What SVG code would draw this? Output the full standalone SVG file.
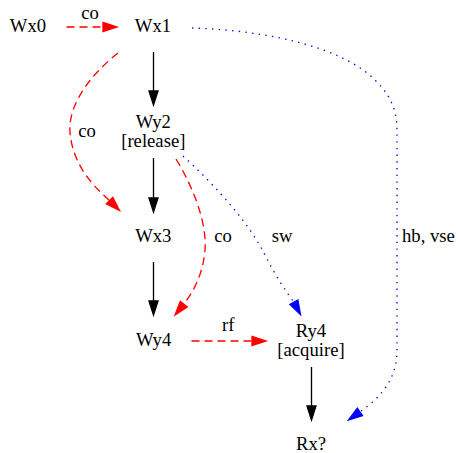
<svg xmlns="http://www.w3.org/2000/svg" width="459" height="453" viewBox="0 0 459 453">
<style>
text{font-family:"Liberation Serif","Times New Roman",serif;font-size:18.67px;fill:#000;text-anchor:middle}
.e{fill:none;stroke-width:1.33}
.k{stroke:#000}
.r{stroke:#ff0000;stroke-dasharray:8,5}
.b{stroke:#0000ff;stroke-dasharray:1.4,5.3}
.hk{fill:#000;stroke:#000;stroke-width:1.33}
.hr{fill:#ff0000;stroke:#ff0000;stroke-width:1.33}
.hb{fill:#0000ff;stroke:#0000ff;stroke-width:1.33}
</style>
<rect width="459" height="453" fill="#fff"/>
<g id="connectors">
<g id="e-wx0-wx1">
<path class="e r" d="M66.5,27 L103,27"/>
<polygon class="hr" points="103,22.5 117,27 103,31.5"/>
<text x="90" y="18.5">co</text>
</g>
<g id="e-wx1-wy2">
<path class="e k" d="M153.5,52 L153.5,91"/>
<polygon class="hk" points="149,91 153.5,105 158,91"/>
</g>
<g id="e-wy2-wx3">
<path class="e k" d="M153.5,158 L153.5,198"/>
<polygon class="hk" points="149,198 153.5,212 158,198"/>
</g>
<g id="e-wx3-wy4">
<path class="e k" d="M153.5,262 L153.5,301"/>
<polygon class="hk" points="149,301 153.5,315 158,301"/>
</g>
<g id="e-ry4-rx">
<path class="e k" d="M311.5,367 L311.5,406"/>
<polygon class="hk" points="307,406 311.5,420 316,406"/>
</g>
<g id="e-wy4-ry4">
<path class="e r" d="M191.5,341 L252,341"/>
<polygon class="hr" points="252,336.5 266,341 252,345.5"/>
<text x="228.3" y="331">rf</text>
</g>
<g id="e-wx1-wx3">
<path class="e r" d="M118,53 C90,75 68,105 70,132 C72,160 88,182 109.6,200.6"/>
<polygon class="hr" points="106.4,203.8 119.5,210.5 112.8,197.4"/>
<text x="87" y="136.5">co</text>
</g>
<g id="e-wy2-wy4">
<path class="e r" d="M176,159 C195,190 207,225 205,250 C203,275 193,292 183.8,304.2"/>
<polygon class="hr" points="187.3,307 175,315 180.3,301.3"/>
<text x="223" y="241.7">co</text>
</g>
<g id="e-wy2-ry4">
<path class="e b" d="M183,156 C220,190 250,225 265,255 C275,275 285,290 293.9,302.2"/>
<polygon class="hb" points="297.9,300 300.5,314.5 289.9,304.4"/>
<text x="282" y="241.7">sw</text>
</g>
<g id="e-wx1-rx">
<path class="e b" d="M192,28 C260,30 340,45 375,80 C398,103 397,120 397,140 L397,350 C397,380 380,398 359.9,411.9"/>
<polygon class="hb" points="362.5,415.6 348.5,420 357.3,408.2"/>
<text x="402" y="241.7" style="text-anchor:start">hb, vse</text>
</g>
</g>
<g id="wx0"><text x="28" y="32">Wx0</text></g>
<g id="wx1"><text x="153" y="32">Wx1</text></g>
<g id="wy2"><text x="153.3" y="128">Wy2</text><text x="153.3" y="146.5">[release]</text></g>
<g id="wx3"><text x="153.3" y="242">Wx3</text></g>
<g id="wy4"><text x="153.7" y="346">Wy4</text></g>
<g id="ry4"><text x="311" y="337">Ry4</text><text x="311" y="356">[acquire]</text></g>
<g id="rx"><text x="311" y="450">Rx?</text></g>
</svg>
